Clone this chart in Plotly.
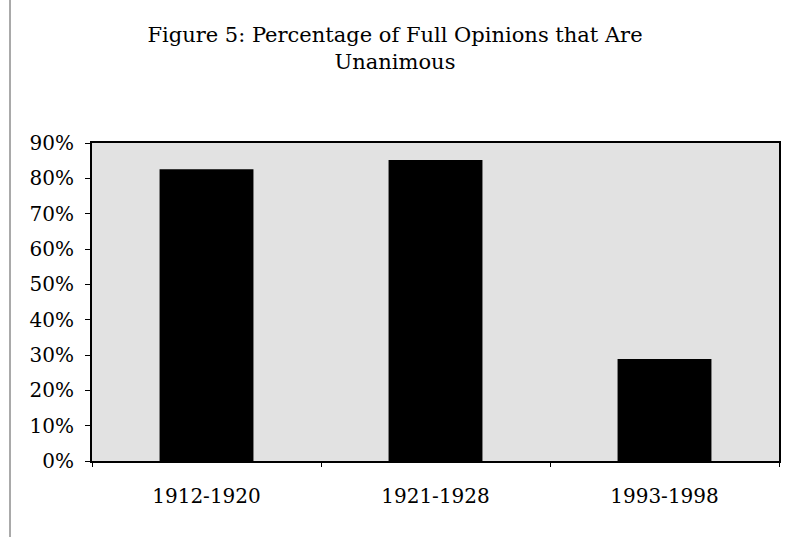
import plotly.graph_objects as go

categories = ["1912-1920", "1921-1928", "1993-1998"]
values = [0.826, 0.852, 0.289]
y_ticks = [i / 10 for i in range(10)]
y_tick_labels = [f"{i*10}%" for i in range(10)]

FONT = "DejaVu Serif"

fig = go.Figure()
fig.add_trace(go.Bar(
    x=categories,
    y=values,
    marker=dict(color="black", line=dict(color="black", width=0)),
    width=0.41,
))

fig.update_layout(
    width=790, height=537,
    margin=dict(l=92, r=11, t=143, b=76, autoexpand=False),
    paper_bgcolor="white",
    plot_bgcolor="#e2e2e2",
    showlegend=False,
    font=dict(family=FONT, color="black", size=20),
    title=dict(
        text="Figure 5: Percentage of Full Opinions that Are<br>Unanimous",
        x=0.5, xanchor="center", xref="container",
        y=0.922, yanchor="top", yref="container",
        font=dict(family=FONT, size=21, color="black"),
        automargin=False,
    ),
    bargap=0.59,
)

fig.update_xaxes(
    showline=True, linecolor="black", linewidth=2, mirror=True,
    ticks="outside", ticklen=4, tickcolor="black", tickwidth=1,
    tickson="boundaries",
    ticklabelstandoff=16,
    tickfont=dict(family=FONT, size=20),
    showgrid=False, automargin=False,
)
fig.update_yaxes(
    range=[0, 0.9],
    tickvals=y_ticks, ticktext=y_tick_labels,
    showline=True, linecolor="black", linewidth=2, mirror=True,
    ticks="outside", ticklen=5, tickcolor="black", tickwidth=1,
    ticklabelstandoff=7,
    tickfont=dict(family=FONT, size=20),
    showgrid=False, zeroline=False, automargin=False,
)

# scanned page border at left
fig.add_shape(type="line", xref="paper", yref="paper",
              x0=(10 - 92) / 687, x1=(10 - 92) / 687, y0=-76 / 318, y1=461 / 318,
              line=dict(color="#555555", width=1))

fig.write_html("out.html",
               config={"displayModeBar": False},
               post_script="document.body.style.margin='0';document.body.style.overflow='hidden';")
